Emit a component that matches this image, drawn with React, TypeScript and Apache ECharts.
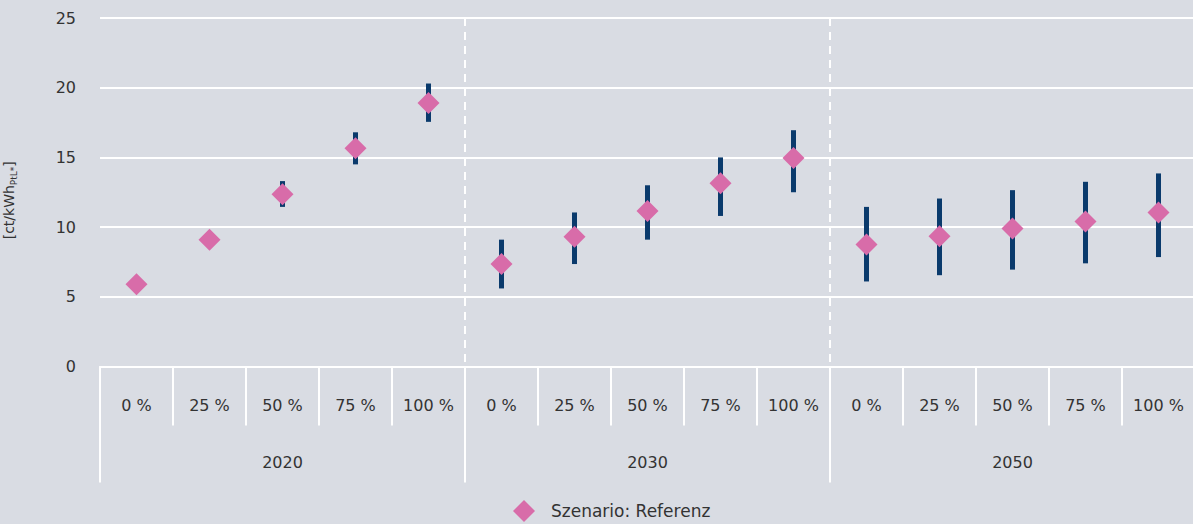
import React, { useEffect, useRef } from "react";
import * as echarts from "echarts";

const shareLabels = ["0 %", "25 %", "50 %", "75 %", "100 %", "0 %", "25 %", "50 %", "75 %", "100 %", "0 %", "25 %", "50 %", "75 %", "100 %"];
const years = ["2020", "2030", "2050"];
const yTicks = [0, 5, 10, 15, 20, 25];
const referenzValues = [5.9, 9.1, 12.35, 15.65, 18.9, 7.35, 9.3, 11.15, 13.15, 14.95, 8.75, 9.35, 9.9, 10.4, 11.05];
const rangeLow = [5.9, 8.6, 11.45, 14.5, 17.55, 5.6, 7.35, 9.1, 10.8, 12.5, 6.1, 6.55, 6.95, 7.4, 7.85];
const rangeHigh = [5.9, 9.3, 13.3, 16.8, 20.3, 9.1, 11.05, 13.0, 15.0, 16.95, 11.45, 12.05, 12.65, 13.25, 13.85];
const seriesName = "Szenario: Referenz";

const BG = "#d9dce3";
const TEXT = "#333333";
const PINK = "#d86ca9";
const NAVY = "#0a3a6c";
const FONT = "'DejaVu Sans', sans-serif";

export default function App() {
  const ref = useRef<HTMLDivElement>(null);
  useEffect(() => {
    if (!ref.current) return;
    const chart = echarts.init(ref.current, undefined, { renderer: "svg" });
    const errData = shareLabels.map((_, i) => [i, rangeLow[i], rangeHigh[i]]);
    chart.setOption({
      animation: false,
      backgroundColor: BG,
      textStyle: { fontFamily: FONT, color: TEXT },
      grid: { left: 100, right: -2, top: 18, bottom: 157.5, containLabel: false, outerBoundsMode: "none" },
      legend: {
        data: [{ name: seriesName, icon: "diamond", itemStyle: { color: PINK, opacity: 1 } }],
        left: 508,
        top: 495,
        itemWidth: 22,
        itemHeight: 22,
        itemGap: 10,
        textStyle: { fontFamily: FONT, fontSize: 17, color: TEXT, padding: [0, 0, 0, 11] },
      },
      xAxis: [
        {
          type: "category",
          data: shareLabels,
          position: "bottom",
          axisLine: { show: true, lineStyle: { color: "#ffffff", width: 2 } },
          axisTick: { show: true, interval: 0, length: 59, lineStyle: { color: "#ffffff", width: 2 } },
          axisLabel: { interval: 0, margin: 31, fontSize: 16, color: TEXT, fontFamily: FONT },
          splitLine: { show: false },
        },
        {
          type: "category",
          data: years,
          position: "bottom",
          axisLine: { show: false },
          axisTick: { show: true, interval: 0, length: 116, lineStyle: { color: "#ffffff", width: 2 } },
          axisLabel: { interval: 0, margin: 88, fontSize: 16, color: TEXT, fontFamily: FONT },
          splitLine: {
            show: true,
            interval: 0,
            showMinLine: false,
            showMaxLine: false,
            lineStyle: { color: "#ffffff", width: 2, type: [8, 6] },
          },
        },
      ],
      yAxis: {
        type: "value",
        min: yTicks[0],
        max: yTicks[yTicks.length - 1],
        interval: 5,
        axisLine: { show: false },
        axisTick: { show: false },
        axisLabel: { margin: 24, fontSize: 16, color: TEXT, fontFamily: FONT },
        splitLine: { show: true, lineStyle: { color: "#ffffff", width: 2 } },
        name: "{m|[ct/kWh}{s|PtL*}{m|]}",
        nameLocation: "middle",
        nameRotate: 90,
        nameGap: 84,
        nameTextStyle: {
          padding: [0, 16, 0, 0],
          rich: {
            m: { fontSize: 14, color: TEXT, fontFamily: FONT, lineHeight: 16, verticalAlign: "bottom" },
            s: { fontSize: 9, color: TEXT, fontFamily: FONT, lineHeight: 16, verticalAlign: "bottom", padding: [0, 0, -2, 0] },
          },
        },
      },
      series: [
        {
          type: "custom",
          xAxisIndex: 0,
          z: 2,
          silent: true,
          data: errData,
          encode: { x: 0, y: [1, 2] },
          renderItem: (params: any, api: any) => {
            const x = api.value(0);
            const top = api.coord([x, api.value(2)]);
            const bottom = api.coord([x, api.value(1)]);
            const w = 5;
            return {
              type: "rect",
              shape: { x: top[0] - w / 2, y: top[1], width: w, height: bottom[1] - top[1] },
              style: { fill: NAVY },
            };
          },
        },
        {
          name: seriesName,
          type: "scatter",
          xAxisIndex: 0,
          z: 5,
          symbol: "diamond",
          symbolSize: 22,
          itemStyle: { color: PINK, opacity: 1 },
          data: referenzValues.map((v, i) => [i, v]),
        },
      ],
    });
    return () => chart.dispose();
  }, []);
  return <div ref={ref} style={{ position: "absolute", left: 0, top: 0, width: 1193, height: 524 }} />;
}
